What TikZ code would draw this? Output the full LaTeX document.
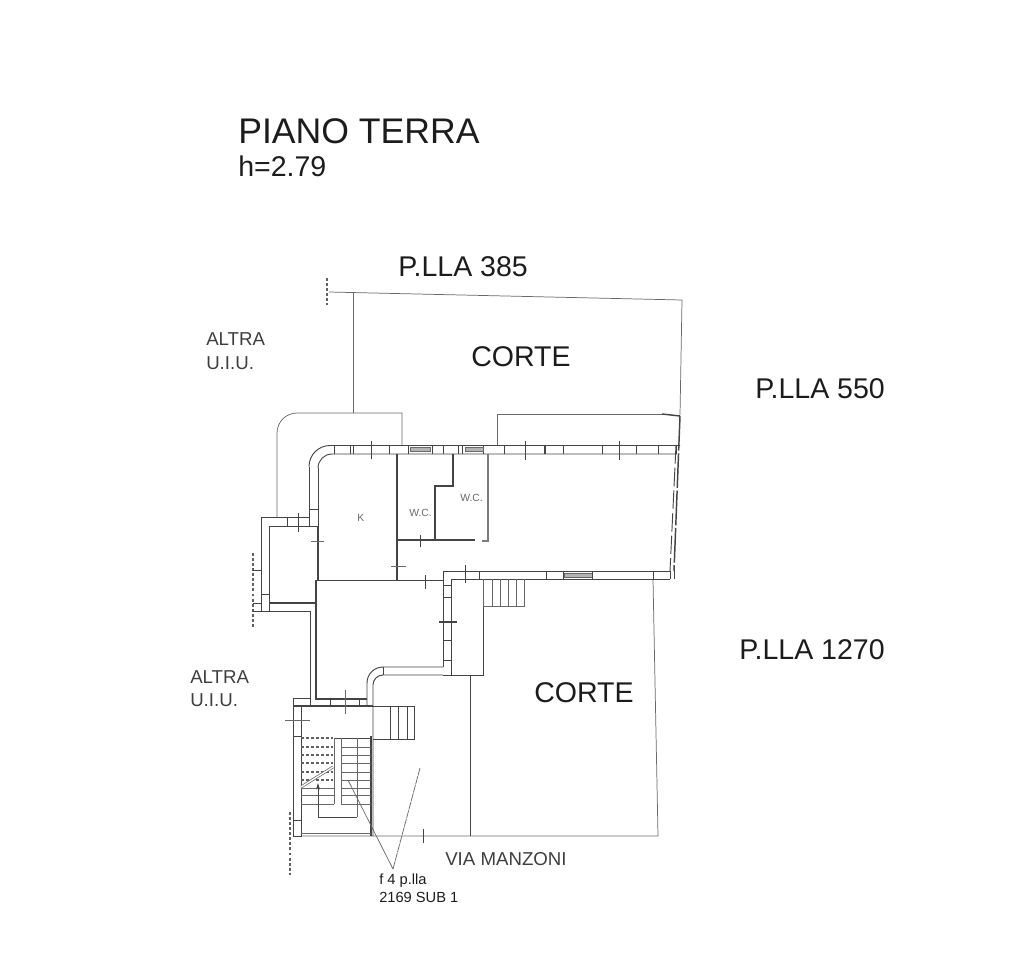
\documentclass[tikz,border=0pt]{standalone}
\usepackage{fontspec}
\setmainfont{Liberation Sans}
\usetikzlibrary{arrows.meta}
\definecolor{inkline}{HTML}{444444}
\definecolor{inktext}{HTML}{1C1C1C}
\tikzset{
  thinline/.style={draw=inkline!80, line width=0.55pt},
  wall/.style={draw=inkline, line width=0.7pt},
  heavy/.style={draw=inkline, line width=1.1pt},
  dashline/.style={draw=inkline!85, line width=0.8pt, dash pattern=on 2.2pt off 1.6pt},
  title/.style={anchor=base west, inner sep=0pt, text=inktext, font=\fontsize{26.7}{30}\selectfont},
  big/.style={anchor=base west, inner sep=0pt, text=inktext, font=\fontsize{21.4}{24}\selectfont},
  mid/.style={anchor=base west, inner sep=0pt, text=inktext!85, font=\fontsize{14}{16}\selectfont},
  small/.style={anchor=base west, inner sep=0pt, text=inktext, font=\fontsize{11}{13}\selectfont},
  tiny/.style={anchor=base west, inner sep=0pt, text=inkline!80, font=\fontsize{7.8}{9}\selectfont}
}
\begin{document}
\begin{tikzpicture}[x=0.75pt, y=-0.75pt]
\useasboundingbox (0,0) rectangle (1009,960);
% texts
\node[title] (piano) at (238,143) {PIANO TERRA};
\node[big] (altezza) at (238,176) {h=2.79};
\node[big] (p385) at (398,276) {P.LLA 385};
\node[big] (corte1) at (471,366) {CORTE};
\node[big] (p550) at (755,398) {P.LLA 550};
\node[big] (p1270) at (739,659) {P.LLA 1270};
\node[big] (corte2) at (534,702) {CORTE};
\node[mid] (altra1) at (206,345) {ALTRA};
\node[mid] (uiu1) at (206,369) {U.I.U.};
\node[mid] (altra2) at (190,683) {ALTRA};
\node[mid] (uiu2) at (190,706) {U.I.U.};
\node[mid] (via) at (445,865) {VIA MANZONI};
\node[small] (foglio) at (379,884) {f 4 p.lla};
\node[small] (sub) at (379,902) {2169 SUB 1};
\node[tiny] (k) at (357,521) {K};
\node[tiny] (wc1) at (409,516) {W.C.};
\node[tiny] (wc2) at (460,501) {W.C.};
% courtyard and boundary
\draw[thinline] (329,292) -- (682,300) -- (680,415);
\draw[dashline] (327,278) -- (327,305);
\draw[thinline] (353,293) -- (353,413);
\draw[thinline] (277,517) -- (277,433) arc[start angle=180, end angle=270, radius=20] -- (402,413) -- (402,445);
\draw[thinline] (497,445) -- (497,414) -- (662,414);
\draw[heavy] (662,414) -- (680,416);
\draw[thinline] (653,579) -- (658,836) -- (301,836);
\draw[wall] (470,675) -- (470,836);
% top wall
\draw[wall] (309,466.5) arc[start angle=180, end angle=270, radius=21] -- (680,445.5);
\draw[wall] (318,468) arc[start angle=180, end angle=270, radius=14] -- (677,454);
\foreach \tx in {334,350,353,389,408,432,443,458,462,483,504,545,563,602,636,658,676}
  \draw[wall] (\tx,445.5) -- (\tx,454);
\draw[heavy] (545,445.5) -- (545,454);
% windows
\foreach \wa/\wb/\wy in {410/430/449.7,465/483/449.7,564/592/575}
  \draw[thinline, fill=inkline!40] (\wa,\wy-2) rectangle (\wb,\wy+2);
% right wall
\draw[heavy, dash pattern=on 26pt off 2pt] (680,416) -- (674,571);
\draw[wall, dash pattern=on 14pt off 3pt] (676,445) -- (670,571);
% side room
\draw[wall] (309,466.5) -- (309,517) -- (261,517) -- (261,611) -- (310,611) -- (310,706);
\draw[wall] (318,468) -- (318,526) -- (269,526) -- (269,611);
\draw[heavy] (269,603) -- (316,603);
\draw[wall] (309,509) -- (318,509) (309,517) -- (309,526) (287,517) -- (287,526);
\draw[wall] (261,594) -- (269,594);
\draw[heavy] (318,526) -- (318,580);
\draw[heavy] (316,580) -- (316,699) -- (367,699);
% K room and W.C.
\draw[heavy] (397,454) -- (397,580);
\draw[heavy] (316,580.5) -- (443,580.5);
\draw[heavy] (398,540) -- (435,540) -- (435,486) -- (453,486) -- (453,454);
\draw[heavy] (435,540) -- (475,540);
\draw[heavy, draw=inkline!70] (488,454) -- (488,541) -- (482,541);
% wall with window below
\draw[wall] (443,580) -- (443,571) -- (670,571);
\draw[wall] (451,675) -- (451,579) -- (670,579);
\foreach \bx in {479,546,563,592,653,670,674}
  \draw[wall] (\bx,571) -- (\bx,579);
\draw[wall] (443,580) -- (443,667);
\draw[wall] (443,585) -- (451,585) (443,597) -- (451,597) (443,640) -- (451,640) (443,660) -- (451,660);
\draw[wall] (483,579) -- (483,675) -- (443,675);
% steps at the back
\draw[thinline] (483,579) -- (483,606) -- (524,606) -- (524,579);
\foreach \sx in {492,500,508,516}
  \draw[thinline] (\sx,579) -- (\sx,606);
% lower wall
\draw[wall] (443,667) -- (383,667) arc[start angle=270, end angle=180, radius=16] -- (367,706);
\draw[wall] (443,675) -- (383,675) arc[start angle=270, end angle=180, radius=10] -- (373,836);
\draw[wall] (383,667) -- (383,675);
% stair well
\draw[wall] (310,698.5) -- (293,698.5) -- (293,836) -- (301,836) -- (301,706);
\draw[heavy] (293,706) -- (373,706);
\draw[wall] (293,736) -- (301,736) (293,820) -- (301,820);
\draw[wall] (330,699) -- (330,706) (359,699) -- (359,706);
\draw[heavy] (371,736) -- (371,836);
\draw[wall] (373,706) -- (414,706) -- (414,739) -- (373,739);
\foreach \sx in {390,398,407}
  \draw[wall] (\sx,706) -- (\sx,739);
\draw[wall] (334,738) -- (371,738);
\draw[thinline] (334,738) -- (334,804) (341,738) -- (341,804);
\foreach \sy in {747,755,763,772,780,788,795,804}
  \draw[thinline] (341,\sy) -- (371,\sy);
\draw[thinline] (357,738) -- (357,817);
\foreach \sy in {738,747,755,763,772,780}
  \draw[dashline] (301,\sy) -- (333,\sy);
\foreach \sy in {788,795,804}
  \draw[thinline] (301,\sy) -- (334,\sy);
\draw[thinline, double, double distance=1pt] (301,787) -- (333,767);
\draw[wall, -{Stealth[length=5pt, width=3pt]}] (357,817) -- (318,817) -- (318,783);
\draw[thinline] (301,833) -- (371,833);
% leaders
\draw[thinline] (348,780) -- (393,869);
\draw[thinline, dash pattern=on 6pt off 0.6pt] (393,869) -- (420,768);
% dimension crosses
\draw[wall] (371,441) -- (371,459);
\draw[wall] (525,441) -- (525,460);
\draw[wall] (619,441) -- (619,460);
\draw[wall] (298,513) -- (298,532);
\draw[thinline] (311,541) -- (324,541);
\draw[thinline] (391,566) -- (406,566);
\draw[wall] (420,535) -- (420,547);
\draw[wall] (425,575) -- (425,589);
\draw[wall] (465,565) -- (465,583);
\draw[heavy] (439,622) -- (457,622);
\draw[thinline] (345,690) -- (345,714);
\draw[thinline] (285,720) -- (310,720);
\draw[wall] (423,829) -- (423,843);
% dotted lines
\draw[dashline] (253,553) -- (253,628);
\draw[wall] (253,570) -- (261,570) (253,603) -- (261,603) (253,611) -- (261,611);
\draw[dashline] (290,812) -- (290,875);
\end{tikzpicture}
\end{document}
